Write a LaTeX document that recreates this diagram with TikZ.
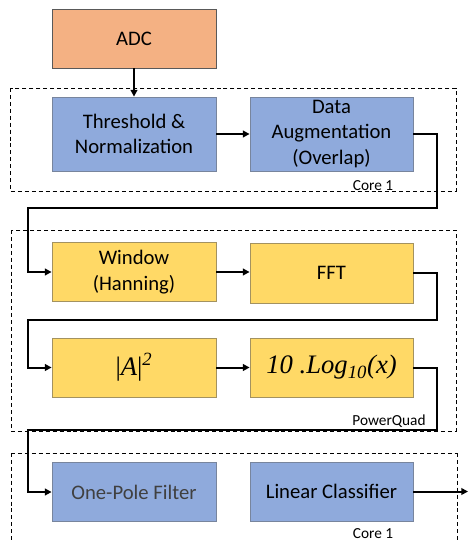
\documentclass[tikz,border=0pt]{standalone}
\usepackage{fontspec}
\setmainfont{Carlito}
\newfontfamily\timesfont{Liberation Serif}
\usepackage{tikz}
\usetikzlibrary{arrows.meta,positioning,calc}
\definecolor{adcorange}{HTML}{F4B183}
\definecolor{coreblue}{HTML}{8FAADC}
\definecolor{pqyellow}{HTML}{FFD966}

\begin{document}
\begin{tikzpicture}[
  x=0.75pt,y=-0.75pt,
  stage/.style={rectangle,minimum width=123pt,minimum height=44.25pt,
    align=center,line width=0.6pt,inner sep=2pt,
    font=\fontsize{15.5}{19}\selectfont},
  bluestage/.style={stage,draw=coreblue!60!black!80,fill=coreblue},
  yellowstage/.style={stage,draw=pqyellow!55!black!80,fill=pqyellow},
  mathtext/.style={font=\timesfont\fontsize{20}{24}\selectfont\itshape},
  group/.style={draw=black,dashed,dash pattern=on 3pt off 2.2pt,line width=0.6pt},
  grouplabel/.style={font=\fontsize{11.5}{13}\selectfont,anchor=base},
  flow/.style={-{Triangle[length=5pt,width=5pt]},line width=1.5pt},
]
  \useasboundingbox (0,0) rectangle (468,542);

  % dashed groups
  \draw[group] (10,88) rectangle (456,191);
  \draw[group] (11,230) rectangle (456,431);
  \draw[group] (11,453) -- (457,453) (11,453) -- (11,545) (457,453) -- (457,545);
  \node[grouplabel] (core1a) at (373,190) {Core 1};
  \node[grouplabel] (pq) at (389,425) {PowerQuad};
  \node[grouplabel,inner sep=1pt] (core1b) at (373,538) {Core 1};

  % stages
  \node[stage,draw=black!65,fill=adcorange] (adc) at (134,38.5) {ADC};
  \node[bluestage,minimum height=55.5pt] (thresh) at (134,134) {Threshold \&\\Normalization};
  \node[bluestage,minimum height=55.5pt,minimum width=122.25pt] (aug) at (331.5,134)
    {Data\\Augmentation\\(Overlap)};
  \node[yellowstage] (win) at (134,272) {Window\\(Hanning)};
  \node[yellowstage,minimum width=122.25pt,minimum height=45pt] (fft) at (331.5,273) {FFT};
  \node[yellowstage,mathtext] (abs) at (134,367.5)
    {{\upshape|}A{\upshape|}\textsuperscript{2}};
  \node[yellowstage,mathtext,minimum width=122.25pt] (log) at (331.5,367.5)
    {10 .Log\textsubscript{10}(x)};
  \node[bluestage,text=black!75] (pole) at (134,492) {One-Pole Filter};
  \node[bluestage,minimum width=122.25pt] (lin) at (331.5,491.5) {Linear Classifier};

  % turn points
  \coordinate (r1) at (437,208);
  \coordinate (l1) at (28,208);
  \coordinate (r2) at (437,320);
  \coordinate (l2) at (28,320);
  \coordinate (r3) at (437,430);
  \coordinate (l3) at (28,430);
  \coordinate (out) at (468,491.5);

  % connectors
  \draw[flow] (adc) -- (thresh);
  \draw[flow] (thresh) -- (aug);
  \draw[flow] (aug.east) -| (r1) -- (l1) |- (win.west);
  \draw[flow] (win.east) -- (fft.west |- win.east);
  \draw[flow] (fft.east) -| (r2) -- (l2) |- (abs.west);
  \draw[flow] (abs) -- (log);
  \draw[flow] (log.east) -| (r3) -- (l3) |- (pole.west);
  \draw[flow] (lin.east) -- (out);
\end{tikzpicture}
\end{document}
